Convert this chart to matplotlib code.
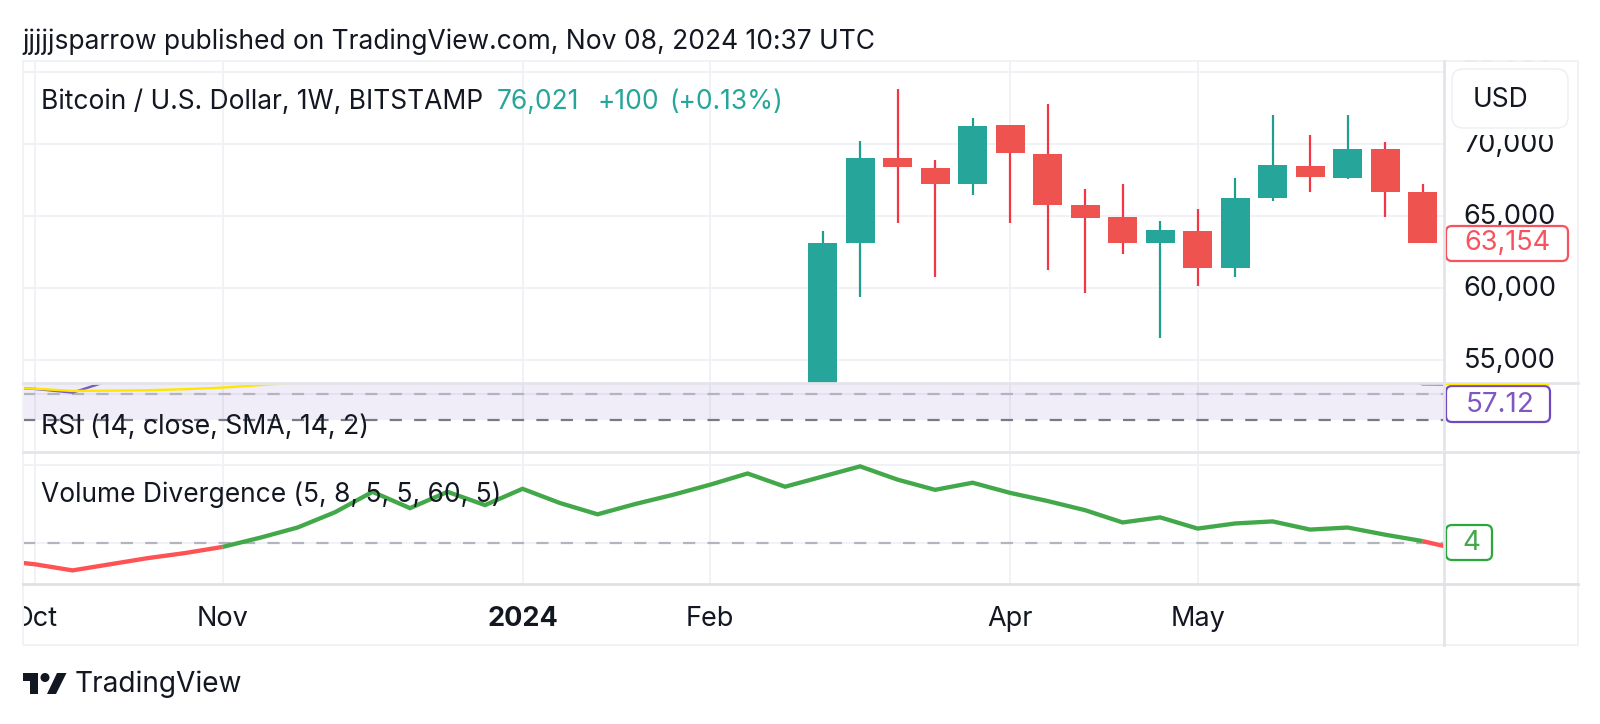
import matplotlib
matplotlib.use("Agg")
import matplotlib.pyplot as plt
from matplotlib.patches import Circle, FancyBboxPatch, Polygon, Rectangle
from matplotlib.ticker import FuncFormatter
from matplotlib.transforms import ScaledTranslation

plt.rcParams["font.family"] = ["Inter", "DejaVu Sans"]

W, H = 1600, 724
ink = "#131722"
grid_c = "#f0f2f6"
sep_c = "#e3e5ea"
up = "#26a69a"
down = "#ef5350"

# weekly candles, week 0 is the first one visible in the price pane
weeks = list(range(17))
opens = [51800, 63121, 69007, 68300, 67234, 71348, 69300, 65745, 64965,
         63121, 63972, 61418, 66241, 68440, 67660, 69645, 66667]
closes = [63121, 69007, 68369, 67234, 71277, 69362, 65745, 64894, 63121,
          64043, 61418, 66241, 68511, 67730, 69645, 66667, 63154]
highs = [63972, 70213, 73830, 68865, 71773, 71348, 72766, 66879, 67234,
         64681, 65461, 67660, 71986, 70638, 71986, 70142, 67234]
lows = [50600, 59362, 64539, 60780, 66454, 64539, 61277, 59645, 62340,
        56525, 60142, 60780, 66028, 66667, 67590, 64965, 63121]

ind_weeks = list(range(-22, 18))
rsi = [55.0, 53.6, 50.8, 60.0, 63.0, 66.0, 68.0, 65.0, 67.0, 64.0, 66.0, 62.0,
       60.0, 62.0, 65.0, 68.0, 72.0, 69.0, 71.0, 75.0, 73.0, 70.0, 74.0, 72.0,
       68.0, 65.0, 63.0, 60.0, 64.0, 60.0, 62.0, 65.0, 67.0, 66.0, 66.0, 65.0,
       65.0, 65.0, 57.12, 56.9]
rsi_ma = [54.6, 53.8, 52.05, 52.3, 52.6, 53.4, 54.6, 56.5, 58.5, 60.0, 60.5, 61.0,
          62.0, 63.0, 63.5, 64.0, 64.5, 65.0, 65.5, 66.0, 67.0, 68.0, 68.0, 68.0,
          68.0, 68.0, 68.0, 67.0, 67.0, 66.0, 66.0, 65.0, 65.0, 65.0, 64.0, 64.0,
          64.0, 64.0, 63.0, 63.0]
vol_div = [0.62, -0.40, -1.93, -0.40, 1.13, 2.41, 3.94, 6.24, 8.79, 12.62, 17.72,
           13.64, 17.72, 14.40, 18.48, 14.91, 12.10, 14.66, 16.95, 19.50, 22.31,
           19.0, 21.54, 24.09, 20.77, 18.22, 20.0, 17.46, 15.42, 13.13, 10.06,
           11.34, 8.53, 9.81, 10.32, 8.28, 8.79, 7.0, 5.4, 3.2]
# colour of the segment leaving each point, True is green
vol_green = [False] * 6 + [True] * 32 + [False] * 2

tick_weeks = [-21, -16, -8, -3, 5, 10]
tick_labels = ["Oct", "Nov", "2024", "Feb", "Apr", "May"]
price_ticks = [55000, 60000, 65000, 70000, 75000]

fig = plt.figure(figsize=(W / 100, H / 100), dpi=100, facecolor="white")


def pane(top, bottom):
    left, right = 23, 1444
    return fig.add_axes([left / W, 1 - bottom / H, (right - left) / W, (bottom - top) / H])


price_ax = pane(61, 383)
rsi_ax = pane(383, 452)
vol_ax = pane(452, 584)

for ax in (price_ax, rsi_ax, vol_ax):
    ax.set_xlim(-21.32, 16.57)
    ax.set_xticks(tick_weeks)
    ax.grid(True, color=grid_c, lw=1.4)
    ax.set_axisbelow(True)
    for s in ax.spines.values():
        s.set_visible(False)
    ax.tick_params(length=0, labelleft=False, labelbottom=False)

# price pane
price_ax.set_ylim(53403, 75764)
price_ax.set_yticks(price_ticks)
price_ax.yaxis.tick_right()
price_ax.yaxis.set_major_formatter(FuncFormatter(lambda v, _: f"{v:,.0f}"))
price_ax.tick_params(axis="y", labelright=True, labelsize=19.5, labelcolor=ink, pad=14, length=0)
nudge = ScaledTranslation(0, 0.025, fig.dpi_scale_trans)
for lbl in price_ax.get_yticklabels():
    lbl.set_transform(lbl.get_transform() + nudge)
for w, o, c, h, l in zip(weeks, opens, closes, highs, lows):
    is_up = c >= o
    price_ax.vlines(w, l, h, color="#1f9d90" if is_up else "#f23645", lw=1.6, zorder=2)
    price_ax.bar(w, abs(c - o), width=0.77, bottom=min(o, c), color=up if is_up else down, zorder=3)

# rsi pane
rsi_ax.set_ylim(5.67, 58.1)
rsi_ax.set_yticks([50])
rsi_ax.axhspan(30, 70, color="#7e57c2", alpha=0.11, lw=0)
rsi_ax.axhline(50, color="#b2b5be", lw=1.6, ls=(0, (5.5, 5.5)))
rsi_ax.axhline(30, color="#787b86", lw=1.6, ls=(0, (5.5, 5.5)))
rsi_ax.plot(ind_weeks, rsi, color="#7e57c2", lw=1.7)
rsi_ax.plot(ind_weeks, rsi_ma, color="#ffe600", lw=1.7)

# volume divergence pane
vol_ax.set_ylim(-5.33, 27.68)
vol_ax.set_yticks([5, 24.4])
vol_ax.axhline(5, color="#b2b5be", lw=1.6, ls=(0, (5.5, 5.5)))
start = 0
for i in range(1, len(ind_weeks)):
    if i == len(ind_weeks) - 1 or vol_green[i] != vol_green[start]:
        vol_ax.plot(ind_weeks[start:i + 1], vol_div[start:i + 1], lw=3.1,
                    color="#43a84a" if vol_green[start] else "#ff5252",
                    solid_capstyle="butt", solid_joinstyle="miter")
        start = i

# time axis
vol_ax.tick_params(axis="x", labelbottom=True, labelsize=19.5, labelcolor=ink, pad=15.5, length=0)
vol_ax.set_xticklabels(tick_labels)
for lbl, name in zip(vol_ax.get_xticklabels(), tick_labels):
    if name == "2024":
        lbl.set_fontweight("bold")
    lbl.set_clip_on(True)
    lbl.set_clip_path(Rectangle((23, 0), W, H))

# chrome, labels and logo in pixel coordinates
top = fig.add_axes([0, 0, 1, 1], zorder=10)
top.set_xlim(0, W)
top.set_ylim(H, 0)
top.axis("off")


def box(x0, y0, x1, y1, edge, lw=1.6, r=6):
    top.add_patch(FancyBboxPatch((x0 + r, y0 + r), x1 - x0 - 2 * r, y1 - y0 - 2 * r,
                                 boxstyle=f"round,pad={r},rounding_size={r}",
                                 fc="white", ec=edge, lw=lw))


# white margin of the currency button hides the 75,000 label and the top of 70,000
top.add_patch(Rectangle((1446, 62), 131, 73, fc="white", ec="none"))

# frame
top.plot([23, 1578, 1578, 23, 23], [61, 61, 645, 645, 61], color=grid_c, lw=1.4)
top.plot([1444, 1444], [61, 645], color=sep_c, lw=2)
for y in (383, 452):
    top.plot([23, 1578], [y, y], color=sep_c, lw=2)
top.plot([23, 1578], [584, 584], color="#e0e1e5", lw=2)

box(1452, 69, 1568, 128, "#eceef2", lw=1, r=11)
top.text(1473, 100, "USD", fontsize=19, color=ink, va="center")

box(1446, 226, 1568, 261, "#f7525f")
top.text(1507, 243, "63,154", fontsize=19.5, color="#f7525f", va="center", ha="center")

top.plot([1446, 1548], [383.5, 383.5], color="#ffe600", lw=1)
box(1446, 386, 1550, 422, "#7048c0")
top.text(1500, 405, "57.12", fontsize=20, color="#7e57c2", va="center", ha="center")

box(1446, 525, 1492, 560, "#2aa83a")
top.text(1471, 543, "4", fontsize=20, color="#43a84a", va="center", ha="center")

top.text(22, 42, "jjjjjsparrow published on TradingView.com, Nov 08, 2024 10:37 UTC",
         fontsize=19, color=ink, va="center")
top.text(41, 102, "Bitcoin / U.S. Dollar, 1W, BITSTAMP", fontsize=19, color=ink, va="center")
top.text(497, 102, "76,021", fontsize=19, color=up, va="center")
top.text(597, 102, "+100", fontsize=19, color=up, va="center")
top.text(669, 102, "(+0.13%)", fontsize=19, color=up, va="center")
top.text(41, 427, "RSI (14, close, SMA, 14, 2)", fontsize=19.2, color=ink, va="center")
top.text(41, 495, "Volume Divergence (5, 8, 5, 5, 60, 5)", fontsize=19, color=ink, va="center")

# TradingView logo
top.add_patch(Polygon([(23, 673), (38, 673), (38, 694), (30, 694), (30, 681), (23, 681)], fc=ink, ec="none"))
top.add_patch(Circle((45, 677.5), 4.5, fc=ink, ec="none"))
top.add_patch(Polygon([(57, 673), (66.5, 673), (56, 694), (47, 694)], fc=ink, ec="none"))
top.text(75, 684, "TradingView", fontsize=20.2, color=ink, va="center")

fig.savefig("out.png", dpi=100)
